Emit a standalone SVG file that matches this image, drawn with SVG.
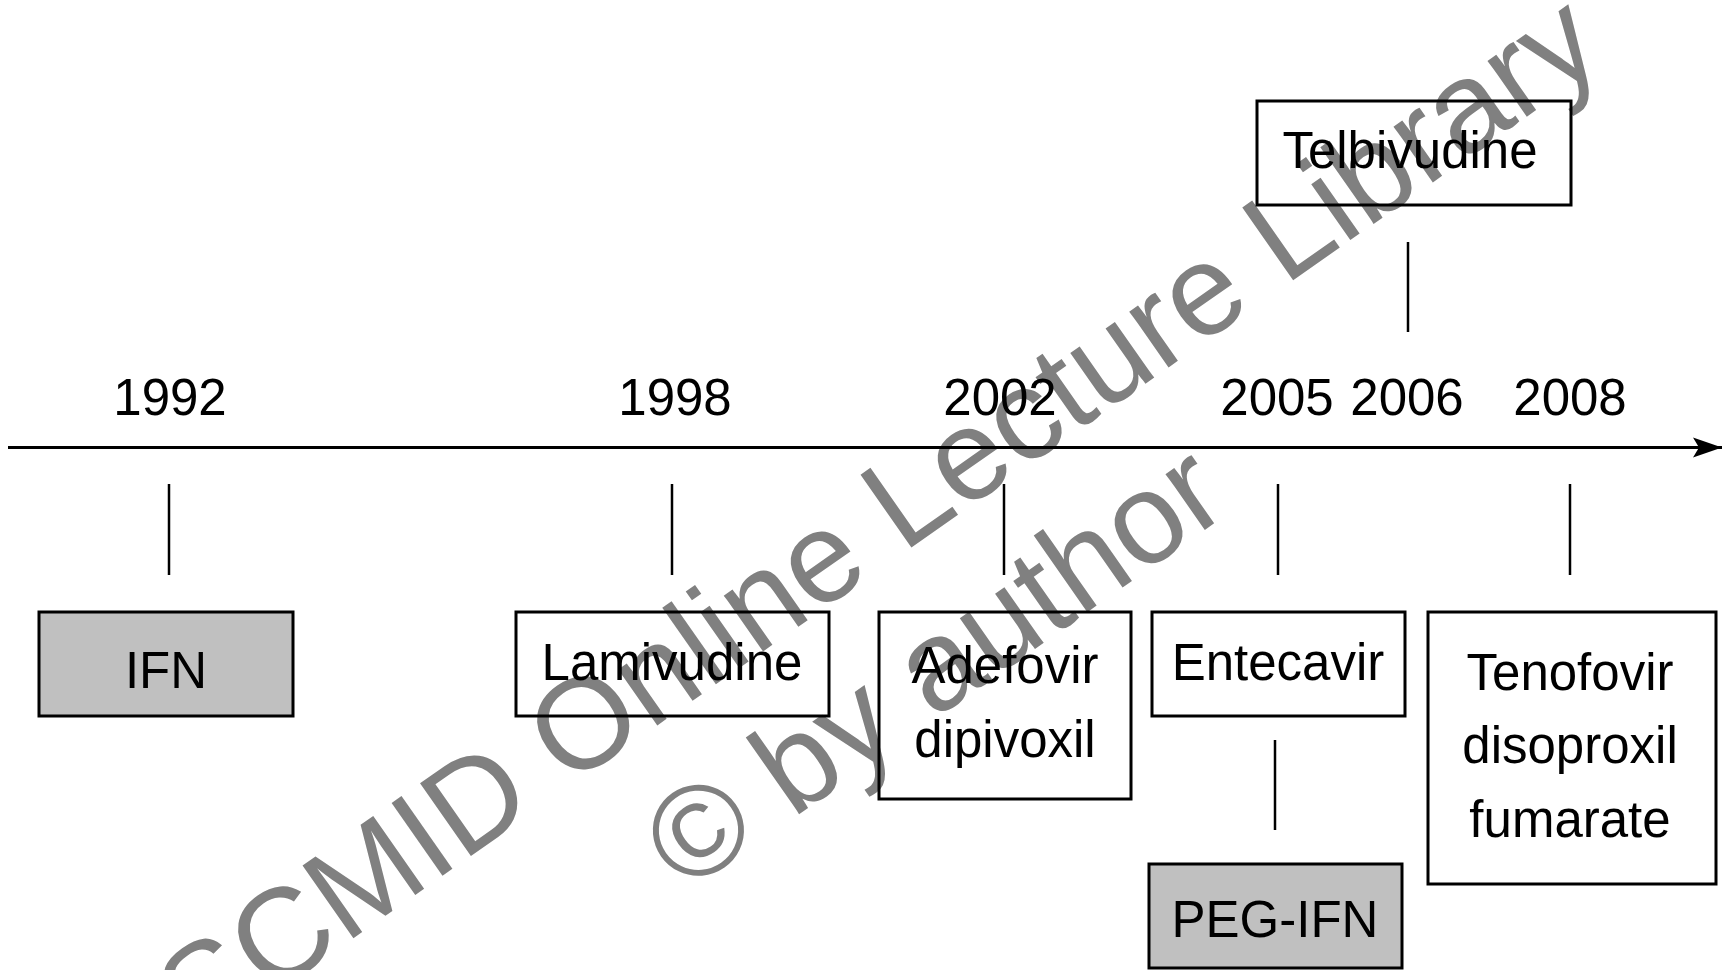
<svg xmlns="http://www.w3.org/2000/svg" width="1724" height="970" viewBox="0 0 1724 970">
<style>
  text { font-family: "Liberation Sans", Arial, sans-serif; fill: #000; }
  .lbl { font-size: 51px; text-anchor: middle; }
  .box { fill: none; stroke: #000; stroke-width: 3; }
  .gray { fill: #c0c0c0; stroke: #000; stroke-width: 3; }
  .tick { stroke: #000; stroke-width: 2.5; fill: none; }
  .wm { font-size: 129px; fill: #808080; }
</style>
<defs>
  <marker id="arr" markerUnits="userSpaceOnUse" markerWidth="30" markerHeight="22" refX="29" refY="11" orient="auto">
    <path d="M0,1 L29,11 L0,21 L6,11 Z" fill="#000"/>
  </marker>
</defs>
<rect width="1724" height="970" fill="#fff"/>

<g id="watermark">
  <text class="wm" transform="translate(198,1047) rotate(-35)">SCMID Online Lecture Library</text>
  <text class="wm" transform="translate(685,894) rotate(-35)">© by author</text>
</g>

<g id="axis">
  <line x1="8" y1="447.5" x2="1722" y2="447.5" stroke="#000" stroke-width="3" marker-end="url(#arr)"/>
  <text class="lbl" x="170" y="415">1992</text>
  <text class="lbl" x="675" y="415">1998</text>
  <text class="lbl" x="1000" y="415">2002</text>
  <text class="lbl" x="1277" y="415">2005</text>
  <text class="lbl" x="1407" y="415">2006</text>
  <text class="lbl" x="1570" y="415">2008</text>
</g>

<g id="connectors">
  <line class="tick" x1="169" y1="484" x2="169" y2="575"/>
  <line class="tick" x1="672" y1="484" x2="672" y2="575"/>
  <line class="tick" x1="1004" y1="484" x2="1004" y2="575"/>
  <line class="tick" x1="1278" y1="484" x2="1278" y2="575"/>
  <line class="tick" x1="1570" y1="484" x2="1570" y2="575"/>
  <line class="tick" x1="1408" y1="242" x2="1408" y2="332"/>
  <line class="tick" x1="1275" y1="740" x2="1275" y2="830"/>
</g>

<g id="ifn">
  <rect class="gray" x="39" y="612" width="254" height="104"/>
  <text class="lbl" x="166" y="688">IFN</text>
</g>
<g id="lamivudine">
  <rect class="box" x="516" y="612" width="313" height="104"/>
  <text class="lbl" x="672" y="680">Lamivudine</text>
</g>
<g id="adefovir">
  <rect class="box" x="879" y="612" width="252" height="187"/>
  <text class="lbl" x="1005" y="683">Adefovir</text>
  <text class="lbl" x="1005" y="757">dipivoxil</text>
</g>
<g id="entecavir">
  <rect class="box" x="1152" y="612" width="253" height="104"/>
  <text class="lbl" x="1278" y="680">Entecavir</text>
</g>
<g id="tenofovir">
  <rect class="box" x="1428" y="612" width="288" height="272"/>
  <text class="lbl" x="1570" y="690">Tenofovir</text>
  <text class="lbl" x="1570" y="763">disoproxil</text>
  <text class="lbl" x="1570" y="837">fumarate</text>
</g>
<g id="peg-ifn">
  <rect class="gray" x="1149" y="864" width="253" height="104"/>
  <text class="lbl" x="1275" y="937">PEG-IFN</text>
</g>
<g id="telbivudine">
  <rect class="box" x="1257" y="101" width="314" height="104"/>
  <text class="lbl" x="1410" y="168">Telbivudine</text>
</g>
</svg>
